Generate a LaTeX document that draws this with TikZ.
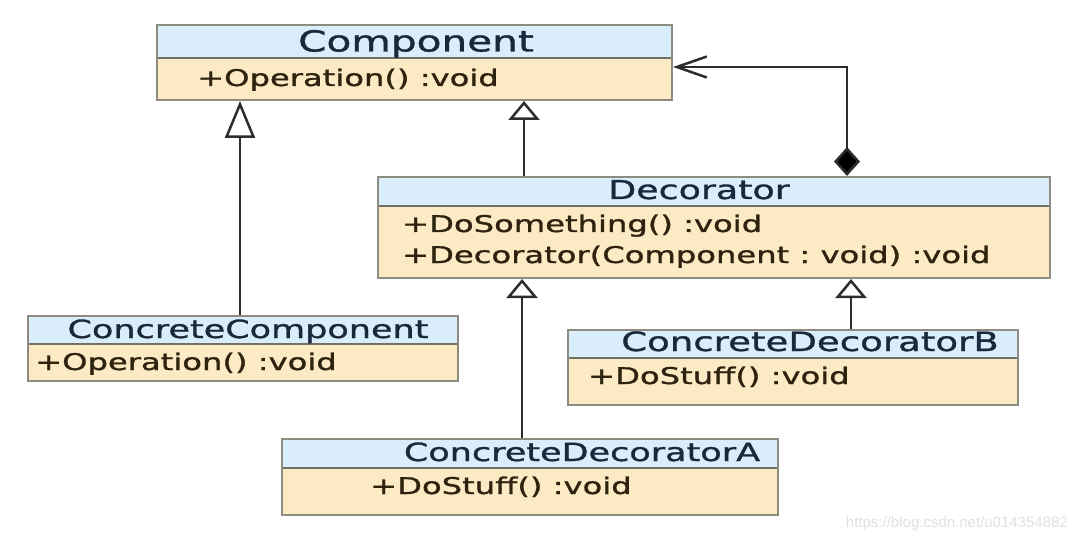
\documentclass[tikz,border=0pt]{standalone}
\usepackage{fontspec}
\usetikzlibrary{arrows.meta,fit}
\newfontfamily\umlfont[FakeStretch=1.4,FakeBold=1.2]{DejaVu Sans}
\newfontfamily\markfont{Liberation Sans}
\frenchspacing

\definecolor{hdrfill}{RGB}{218,237,251}
\definecolor{bdyfill}{RGB}{251,234,195}
\definecolor{framecol}{RGB}{140,140,128}
\definecolor{divcol}{RGB}{112,112,100}
\definecolor{hdrtext}{RGB}{25,40,60}
\definecolor{bdytext}{RGB}{45,35,15}
\definecolor{linkcol}{RGB}{45,45,45}

% one class box: name, left, top, right, divider, bottom
\newcommand\umlbox[6]{%
  \fill[hdrfill] (#2,#3) rectangle (#4,#5);
  \fill[bdyfill] (#2,#5) rectangle (#4,#6);
  \draw[divcol, line width=2pt] (#2,#5) -- (#4,#5);
  \node[boxframe, fit={(#2,#3) (#4,#6)}] (#1) {};
}

\tikzset{
  boxframe/.style={draw=framecol, line width=2pt, inner sep=0pt},
  classname/.style={anchor=base, inner sep=0pt, text=hdrtext},
  member/.style={anchor=base west, inner sep=0pt, text=bdytext,
    font=\umlfont\fontsize{23}{27}\selectfont},
  inherit/.style={draw=linkcol, line width=2.5pt,
    -{Triangle[open, length=19pt, width=31pt, line width=2.5pt]}},
  inheritlong/.style={inherit,
    -{Triangle[open, length=37pt, width=30pt, line width=2.5pt]}},
  compose/.style={draw=linkcol, line width=2.5pt,
    {Diamond[length=29pt, width=26pt, fill=black]}-{Straight Barb[length=30pt, width=21pt, line width=2.5pt]}},
}

\begin{document}
\begin{tikzpicture}[x=1pt, y=-1pt]
\useasboundingbox (0,0) rectangle (1076,540);

% class boxes
\umlbox{comp}{157}{25}{672}{58}{100}
\umlbox{dec}{378}{177}{1050}{206}{278}
\umlbox{cc}{28}{316}{458}{344}{381}
\umlbox{cdb}{568}{330}{1018}{358}{405}
\umlbox{cda}{282}{439}{778}{468}{515}

% class names
\node[classname, font=\umlfont\fontsize{29}{33}\selectfont] (compname) at (416,51.5) {Component};
\node[classname, font=\umlfont\fontsize{26}{30}\selectfont] (decname) at (699,199) {Decorator};
\node[classname, font=\umlfont\fontsize{25}{29}\selectfont] (ccname) at (248,338) {ConcreteComponent};
\node[classname, font=\umlfont\fontsize{26.5}{30}\selectfont] (cdbname) at (810,351) {ConcreteDecoratorB};
\node[classname, font=\umlfont\fontsize{25}{29}\selectfont] (cdaname) at (582,461) {ConcreteDecoratorA};

% members
\node[member] (compop) at (197,86) {+Operation() :void};
\node[member] (decdo) at (402,232) {+DoSomething() :void};
\node[member] (decctor) at (402,263) {+Decorator(Component : void) :void};
\node[member] (ccop) at (35,370) {+Operation() :void};
\node[member] (cdbdo) at (588,384) {+DoStuff() :void};
\node[member] (cdado) at (370,494) {+DoStuff() :void};

% generalisations
\draw[inheritlong] ([xshift=-3pt]cc.north) -- ([xshift=-3pt]cc.north |- comp.south);
\draw[inherit] ([xshift=147pt]dec.north west) -- ([xshift=147pt]dec.north west |- comp.south);
\draw[inherit] ([xshift=241pt]cda.north west) -- ([xshift=241pt]cda.north west |- dec.south);
\draw[inherit] ([xshift=284pt]cdb.north west) -- ([xshift=284pt]cdb.north west |- dec.south);

% composition: Decorator holds a Component
\draw[compose] ([xshift=470pt]dec.north west) |- ([yshift=-4.5pt]comp.east);

% watermark
\node[anchor=base east, inner sep=0pt, text=black!12,
  font=\markfont\fontsize{15}{18}\selectfont] (mark) at (1068,527) {https://blog.csdn.net/u014354882};
\end{tikzpicture}
\end{document}
